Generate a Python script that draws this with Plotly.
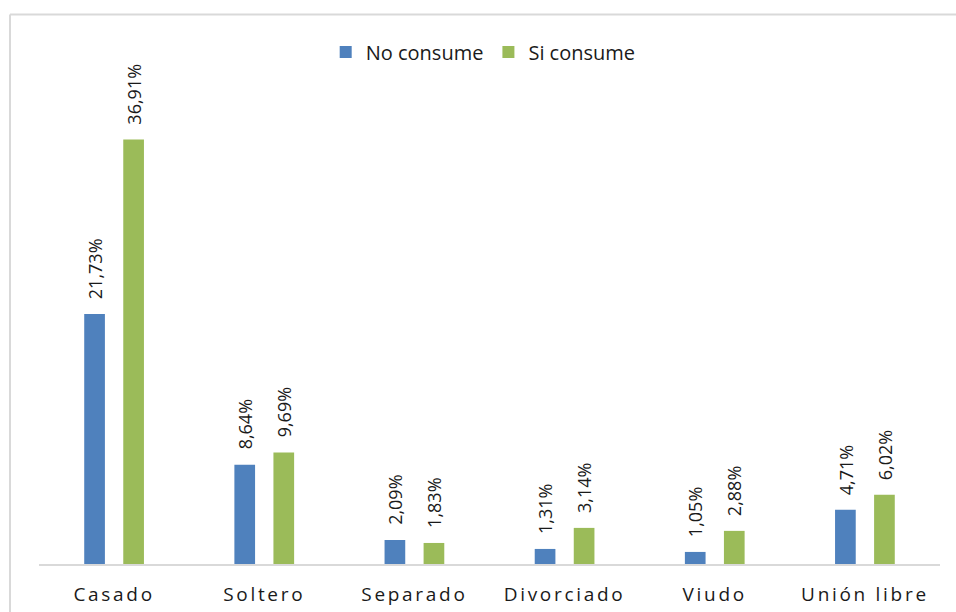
import plotly.graph_objects as go

# Estado civil vs. consumo (porcentaje del total)
categorias = ["Casado", "Soltero", "Separado", "Divorciado", "Viudo", "Unión libre"]
no_consume = [21.73, 8.64, 2.09, 1.31, 1.05, 4.71]
si_consume = [36.91, 9.69, 1.83, 3.14, 2.88, 6.02]
series = [("No consume", no_consume, "#4F81BD"), ("Si consume", si_consume, "#9BBB59")]

W, H = 956, 612
ML, MR, MT, MB = 39, 16, 40, 48
plot_w = W - ML - MR
plot_h = H - MT - MB
px_per_unit = 11.5
y_max = plot_h / px_per_unit

BARGAP = 0.48
BARGROUPGAP = 0.47


def etiqueta(v):
    return f"{v:.2f}".replace(".", ",") + "%"


def px_x(px):
    return (px - ML) / plot_w


def px_y(px):
    return (H - MB - px) / plot_h


fig = go.Figure()
for nombre, valores, color in series:
    fig.add_trace(go.Bar(
        x=categorias, y=valores, name=nombre,
        marker=dict(color=color, line=dict(width=0)),
        hoverinfo="x+y",
    ))

# value labels, rotated, above each bar
slot = (1 - BARGAP) * plot_w / len(categorias) / 2
for i, (nombre, valores, color) in enumerate(series):
    shift = (i - 0.5) * slot
    for cat, v in zip(categorias, valores):
        fig.add_annotation(
            x=cat, y=v, text=etiqueta(v), showarrow=False,
            textangle=-90, xanchor="center", yanchor="bottom",
            xshift=shift, yshift=13,
            font=dict(family="Open Sans", size=18, color="#1a1a1a"),
        )

# chart frame: only its left and top edges fall inside the page
frame = dict(type="line", xref="paper", yref="paper",
             line=dict(color="#d9d9d9", width=2), layer="below")
fig.add_shape(x0=px_x(10), x1=px_x(W), y0=px_y(14.5), y1=px_y(14.5), **frame)
fig.add_shape(x0=px_x(10), x1=px_x(10), y0=px_y(14.5), y1=px_y(H), **frame)

fig.update_layout(
    width=W, height=H,
    margin=dict(l=ML, r=MR, t=MT, b=MB, pad=0, autoexpand=False),
    paper_bgcolor="white", plot_bgcolor="white",
    barmode="group", bargap=BARGAP, bargroupgap=BARGROUPGAP,
    showlegend=True,
    legend=dict(
        orientation="h", x=0.493, xanchor="center", y=0.977, yanchor="middle",
        font=dict(family="Open Sans", size=20, color="#1a1a1a"),
        itemwidth=30, bgcolor="rgba(0,0,0,0)",
    ),
    xaxis=dict(
        showline=True, linecolor="#d9d9d9", linewidth=1.5,
        showgrid=False, ticks="", zeroline=False,
        tickfont=dict(family="Open Sans", size=19, color="#1a1a1a"),
        ticklabelstandoff=12, automargin=False,
        fixedrange=True,
    ),
    yaxis=dict(
        range=[0, y_max], visible=False, showgrid=False, zeroline=False,
        automargin=False, fixedrange=True,
    ),
)

post = """
document.querySelectorAll('.xtick text').forEach(function(t){
  t.style.letterSpacing = '2.7px';
});
"""

fig.write_html("out.html", post_script=post)
